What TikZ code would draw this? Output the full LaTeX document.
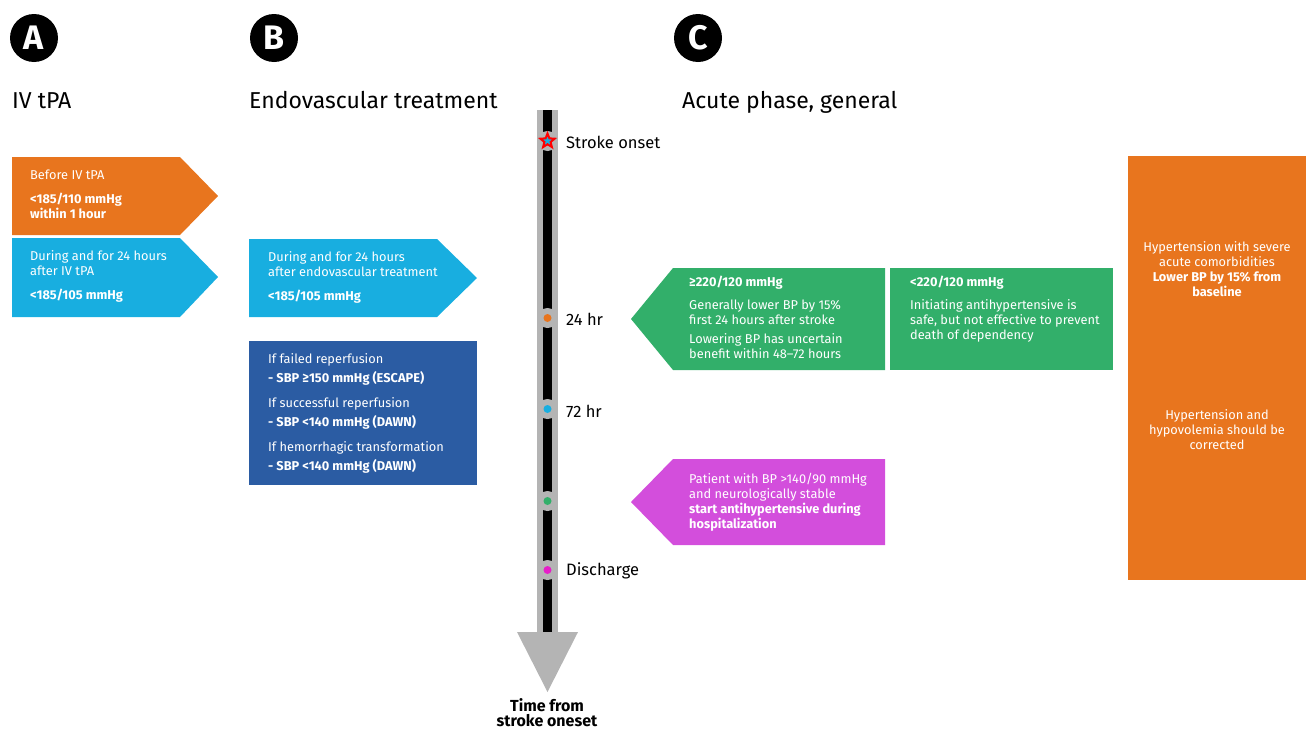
\documentclass[tikz,border=0pt]{standalone}
\usepackage{fontspec}
\setmainfont{Fira Sans}
\usetikzlibrary{shapes.geometric}

\definecolor{tpaorange}{RGB}{232,117,30}
\definecolor{skyblue}{RGB}{24,174,224}
\definecolor{navyblue}{RGB}{43,92,163}
\definecolor{leafgreen}{RGB}{50,175,106}
\definecolor{plum}{RGB}{211,78,220}
\definecolor{railgray}{RGB}{180,180,180}
\definecolor{dotpink}{RGB}{230,30,200}

\tikzset{
  badge/.style={circle,fill=black,minimum size=48pt,inner sep=0pt,text=white,
    font=\fontsize{34}{34}\selectfont\bfseries},
  heading/.style={anchor=base west,inner sep=0pt,font=\fontsize{23}{23}\selectfont},
  boxtext/.style={anchor=north west,align=left,inner sep=0pt,text=white,
    font=\fontsize{12.8}{15}\selectfont},
  midtext/.style={anchor=north,align=center,inner sep=0pt,text=white,
    font=\fontsize{12.8}{15}\selectfont},
  ring/.style={circle,fill=railgray,minimum size=20pt,inner sep=0pt},
  dot/.style={circle,minimum size=8pt,inner sep=0pt},
  tick/.style={anchor=west,inner sep=0pt,font=\fontsize{16.5}{16.5}\selectfont}
}

\begin{document}
\begin{tikzpicture}[x=1pt,y=-1pt]
    \useasboundingbox (0,0) rectangle (1306,731);

    % column headings
    \node[badge] (A) at (34,38) {A};
    \node[badge] (B) at (274,38) {B};
    \node[badge] (C) at (698,38) {C};
    \node[heading] (tA) at (12,108) {IV tPA};
    \node[heading] (tB) at (249,108) {Endovascular treatment};
    \node[heading] (tC) at (682,108) {Acute phase, general};

    % IV tPA
    \fill[tpaorange] (12,157) -- (180,157) -- (218,196) -- (180,235) -- (12,235) -- cycle;
    \node[boxtext] (before) at (30,170) {Before IV tPA\\[9pt]
        \textbf{<185/110 mmHg}\\ \textbf{within 1 hour}};
    \fill[skyblue] (12,238) -- (180,238) -- (218,277) -- (180,317) -- (12,317) -- cycle;
    \node[boxtext] (during) at (30,250) {During and for 24 hours\\ after IV tPA\\[9pt]
        \textbf{<185/105 mmHg}};

    % endovascular
    \fill[skyblue] (249,239) -- (437,239) -- (477,278) -- (437,317) -- (249,317) -- cycle;
    \node[boxtext] (evt) at (268,251) {During and for 24 hours\\ after endovascular treatment\\[9pt]
        \textbf{<185/105 mmHg}};
    \fill[navyblue] (249,341) rectangle (477,485);
    \node[boxtext] (reperf) at (268,353) {If failed reperfusion\\[4pt]
        \textbf{- SBP ≥150 mmHg (ESCAPE)}\\[10pt]
        If successful reperfusion\\[4pt]
        \textbf{- SBP <140 mmHg (DAWN)}\\[10pt]
        If hemorrhagic transformation\\[4pt]
        \textbf{- SBP <140 mmHg (DAWN)}};

    % time line
    \coordinate (top) at (547.5,110);
    \coordinate (bottom) at (547.5,632);
    \draw[railgray,line width=21pt] (top) -- (bottom);
    \draw[black,line width=9pt] (top) -- (bottom);
    \fill[railgray] (bottom) ++(-30.5,0) -- ++(61,0) -- ++(-30.5,60) -- cycle;

    \node[ring] (onset) at (547.5,141) {};
    \node[star,star points=5,star point ratio=2.3,draw=red,fill=skyblue,line width=2pt,
          minimum size=15pt,inner sep=0pt] (star) at (onset) {};
    \node[ring] (h24) at (547.5,318) {};
    \node[dot,fill=tpaorange] (d24) at (h24) {};
    \node[ring] (h72) at (547.5,409) {};
    \node[dot,fill=skyblue] (d72) at (h72) {};
    \node[ring] (stable) at (547.5,501) {};
    \node[dot,fill=leafgreen] (dst) at (stable) {};
    \node[ring] (dis) at (547.5,570) {};
    \node[dot,fill=dotpink] (ddis) at (dis) {};

    \node[tick] (lonset) at (566,142) {Stroke onset};
    \node[tick] (l24) at (566,319) {24 hr};
    \node[tick] (l72) at (566,411) {72 hr};
    \node[tick] (ldis) at (566,571) {Discharge};
    \node[align=center,inner sep=0pt,font=\fontsize{16}{15}\selectfont\bfseries]
        (axis) at (547,713) {Time from\\ stroke oneset};

    % acute phase
    \fill[leafgreen] (631,319) -- (673,268) -- (885,268) -- (885,370) -- (673,370) -- cycle;
    \node[boxtext] (high) at (689,276) {\textbf{≥220/120 mmHg}\\[8pt]
        Generally lower BP by 15\%\\ first 24 hours after stroke\\[4pt]
        Lowering BP has uncertain\\ benefit within 48–72 hours};
    \fill[leafgreen] (890,268) rectangle (1113,370);
    \node[boxtext] (low) at (910,276) {\textbf{<220/120 mmHg}\\[8pt]
        Initiating antihypertensive is\\ safe, but not effective to prevent\\ death of dependency};
    \fill[plum] (631,502) -- (673,459) -- (885,459) -- (885,545) -- (673,545) -- cycle;
    \node[boxtext] (patient) at (689,473) {Patient with BP >140/90 mmHg\\ and neurologically stable\\
        \textbf{start antihypertensive during}\\ \textbf{hospitalization}};

    \fill[tpaorange] (1128,156) rectangle (1306,580);
    \node[midtext] (comorb) at (1217,241) {Hypertension with severe\\ acute comorbidities\\
        \textbf{Lower BP by 15\% from}\\ \textbf{baseline}};
    \node[midtext] (hypo) at (1217,409) {Hypertension and\\ hypovolemia should be\\ corrected};
\end{tikzpicture}
\end{document}
